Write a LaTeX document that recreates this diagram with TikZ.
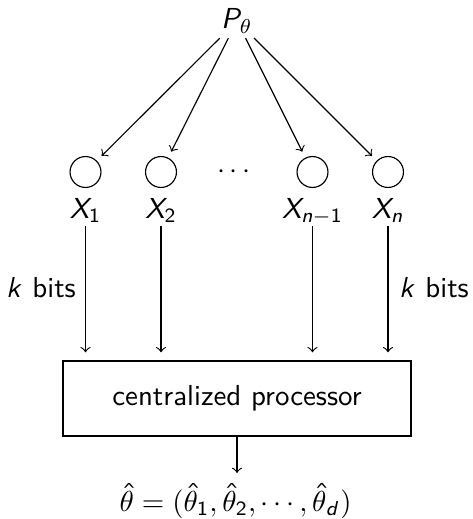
\documentclass[tikz,border=0pt]{standalone}
\DeclareMathAlphabet{\mathsfit}{OT1}{cmss}{m}{sl}
\DeclareSymbolFont{operators}{OT1}{cmss}{m}{n}
\DeclareSymbolFont{rmops}{OT1}{cmr}{m}{n}
\DeclareMathSymbol{(}{\mathopen}{rmops}{"28}
\DeclareMathSymbol{)}{\mathclose}{rmops}{"29}
\DeclareMathSymbol{=}{\mathrel}{rmops}{"3D}
\tikzset{
  leaf/.style={circle, draw, minimum size=10.7pt, inner sep=0pt, outer sep=2.5pt},
  xlab/.style={anchor=base, inner sep=1pt, text height=6.9pt, text depth=1.7pt},
  proc/.style={draw, minimum width=120.4pt, minimum height=25.95pt, font=\sffamily},
  bits/.style={font=\sffamily},
  conn/.style={->},
  feed/.style={->, shorten >=2.8pt}
}
\begin{document}
\begin{tikzpicture}[x=0.346pt, y=-0.346pt]
\useasboundingbox (0,0) rectangle (472,519);
\node[inner sep=1.5pt] (P) at (237,21) {$\mathsfit{P}_\theta$};
\node[leaf] (c1) at (85.5,172) {};
\node[leaf] (c2) at (161,172) {};
\node (dots) at (234,172) {$\cdots$};
\node[leaf] (c3) at (312.5,172) {};
\node[leaf] (c4) at (388,172) {};
\node[xlab] (x1) at (85.5,218) {$\mathsfit{X}_1$};
\node[xlab] (x2) at (161,218) {$\mathsfit{X}_2$};
\node[xlab] (x3) at (312.5,218) {$\mathsfit{X}_{\mathsfit{n}-1}$};
\node[xlab] (x4) at (388,218) {$\mathsfit{X}_{\mathsfit{n}}$};
\node[proc] (box) at (237,398.5) {centralized processor};
\node[bits] (kl) at (41,288) {$\mathsfit{k}$ bits};
\node[bits] (kr) at (434,288) {$\mathsfit{k}$ bits};
\node[anchor=base, inner sep=0pt] (out) at (235.5,511) {$\hat{\theta} = (\hat{\theta}_1, \hat{\theta}_2, \cdots, \hat{\theta}_{\mathsfit{d}})$};
\coordinate (outtop) at (237,473);
\draw[conn] (P) -- (c1);
\draw[conn] (P) -- (c2);
\draw[conn] (P) -- (c3);
\draw[conn] (P) -- (c4);
\draw[feed] (x1.south) -- (x1.south |- box.north);
\draw[feed] (x2.south) -- (x2.south |- box.north);
\draw[feed] (x3.south) -- (x3.south |- box.north);
\draw[feed] (x4.south) -- (x4.south |- box.north);
\draw[conn] (box.south) -- (outtop);
\end{tikzpicture}
\end{document}
